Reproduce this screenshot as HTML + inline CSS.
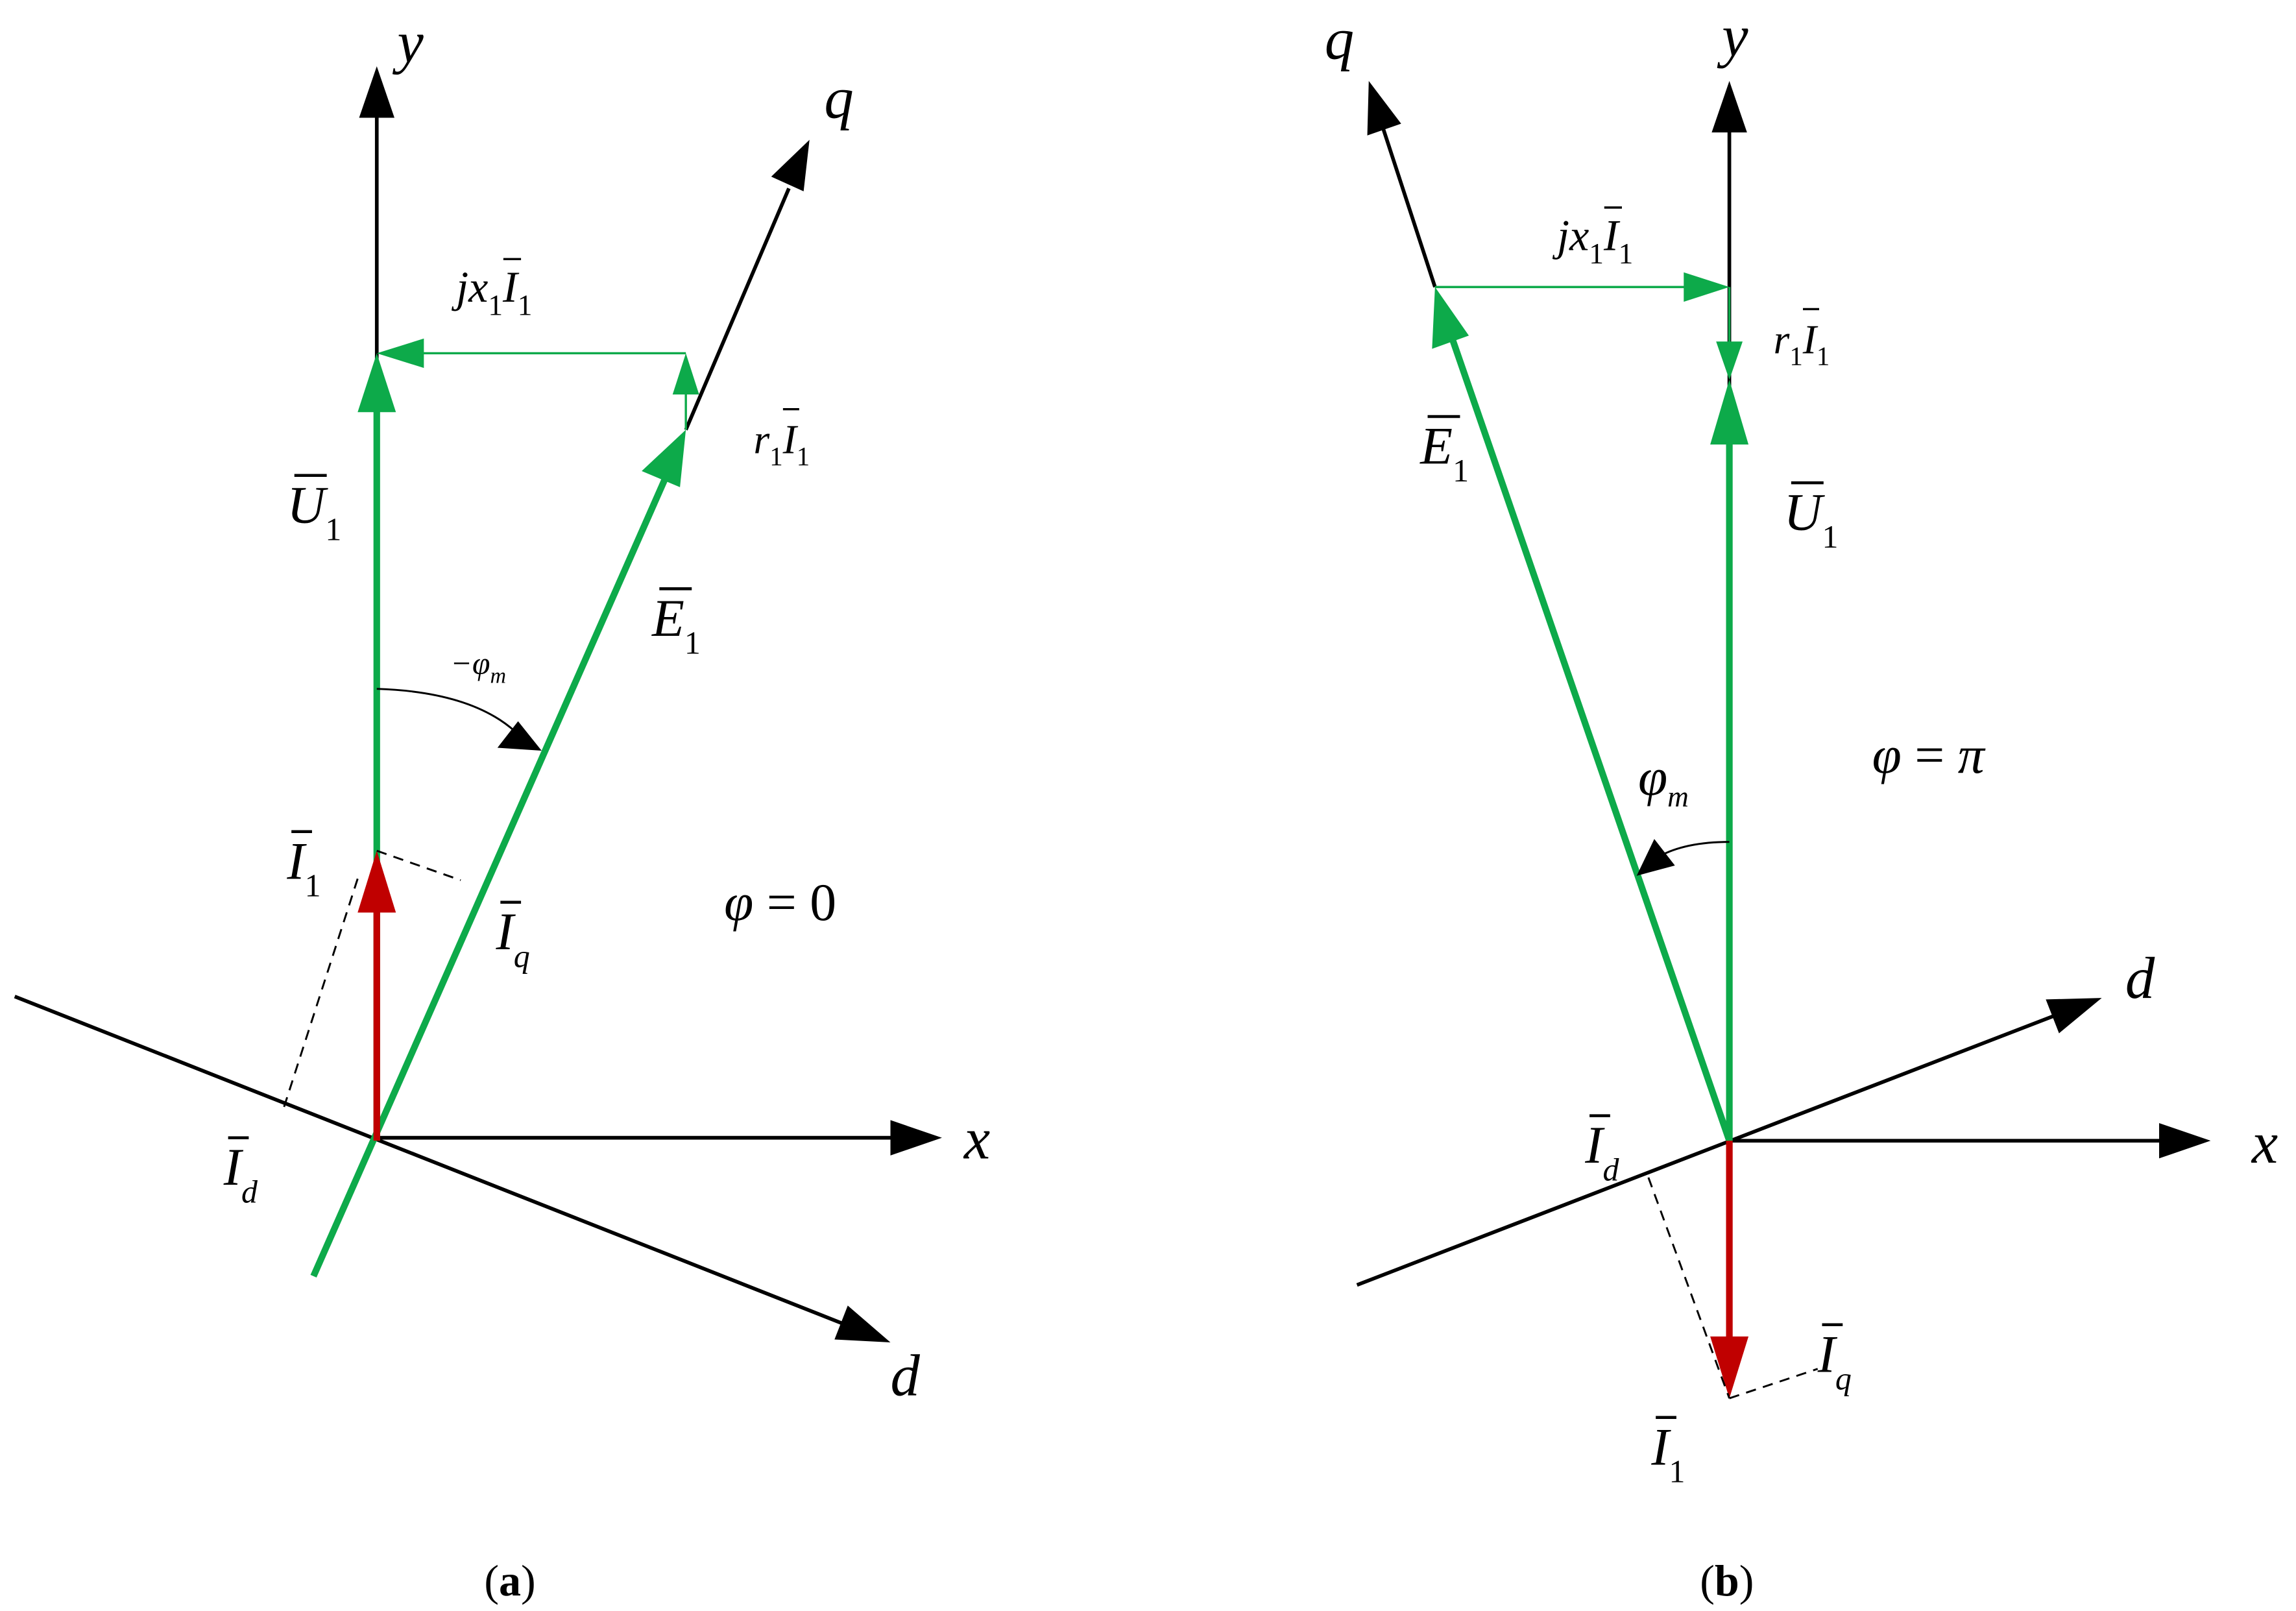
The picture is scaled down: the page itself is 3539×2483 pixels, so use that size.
<!DOCTYPE html>
<html><head><meta charset="utf-8"><style>
html,body{margin:0;padding:0;background:#fff;}
svg{display:block;}
text{font-family:"Liberation Serif",serif;font-style:italic;fill:#000;}
.n{font-style:normal;}
</style></head><body>
<svg width="3539" height="2483" viewBox="0 0 1560 1094.5" preserveAspectRatio="none" xmlns="http://www.w3.org/2000/svg">
<rect width="1560" height="1094.5" fill="#fff"/>
<!-- ===== (a) ===== -->
<g stroke="#000" stroke-width="2.5" fill="none">
<line x1="256" y1="775" x2="256" y2="78"/>
<line x1="256" y1="773" x2="605" y2="773"/>
<line x1="10" y1="677" x2="572" y2="899"/>
<line x1="466" y1="292" x2="536" y2="128"/>
</g>
<polygon points="256,45 244,80 268,80" fill="#000"/>
<polygon points="640,773 605,761 605,785" fill="#000"/>
<polygon points="605,912 567,910 576,887" fill="#000"/>
<polygon points="550,95 524,120 546,130" fill="#000"/>
<line x1="213" y1="867" x2="452" y2="325" stroke="#0daa4a" stroke-width="4.5"/>
<polygon points="466,292 436,320 462,331" fill="#0daa4a"/>
<line x1="256" y1="775" x2="256" y2="275" stroke="#0daa4a" stroke-width="4.5"/>
<polygon points="256,240 243,280 269,280" fill="#0daa4a"/>
<line x1="466" y1="240" x2="285" y2="240" stroke="#0daa4a" stroke-width="1.5"/>
<polygon points="256,240 288,230 288,250" fill="#0daa4a"/>
<line x1="466" y1="292" x2="466" y2="265" stroke="#0daa4a" stroke-width="1.5"/>
<polygon points="466,240 457,268 475,268" fill="#0daa4a"/>
<line x1="256" y1="775" x2="256" y2="610" stroke="#c00000" stroke-width="4.5"/>
<polygon points="256,578 243,620 269,620" fill="#c00000"/>
<g stroke="#000" stroke-width="1.3" stroke-dasharray="7,5" fill="none">
<line x1="243" y1="597" x2="193" y2="752"/>
<line x1="256" y1="578" x2="313" y2="598"/>
</g>
<path d="M256,468 Q320,470 350,497" stroke="#000" stroke-width="1.3" fill="none"/>
<polygon points="368,510 338,508 352,490" fill="#000"/>
<text x="270" y="42" font-size="40">y</text>
<text x="655" y="787" font-size="40">x</text>
<text x="605" y="948" font-size="40">d</text>
<text x="560" y="80" font-size="40">q</text>
<text x="195" y="355" font-size="36">U<tspan class="n" font-size="22" dy="12">1</tspan></text><line x1="200" y1="323" x2="222" y2="323" stroke="#000" stroke-width="2"/>
<text x="443" y="432" font-size="36">E<tspan class="n" font-size="22" dy="12">1</tspan></text><line x1="448" y1="400" x2="470" y2="400" stroke="#000" stroke-width="2"/>
<text x="512" y="308" font-size="28">r<tspan class="n" font-size="18" dy="8">1</tspan><tspan dy="-8">I</tspan><tspan class="n" font-size="18" dy="8">1</tspan></text><line x1="532" y1="278" x2="543" y2="278" stroke="#000" stroke-width="1.5"/>
<text x="310" y="205" font-size="30">jx<tspan class="n" font-size="20" dy="9">1</tspan><tspan dy="-9">I</tspan><tspan class="n" font-size="20" dy="9">1</tspan></text><line x1="342" y1="176" x2="354" y2="176" stroke="#000" stroke-width="1.5"/>
<text x="306" y="458" font-size="22">−φ<tspan font-size="15" dy="6">m</tspan></text>
<text x="195" y="597" font-size="36">I<tspan class="n" font-size="22" dy="12">1</tspan></text><line x1="198" y1="565" x2="212" y2="565" stroke="#000" stroke-width="2"/>
<text x="337" y="645" font-size="36">I<tspan font-size="22" dy="12">q</tspan></text><line x1="340" y1="613" x2="354" y2="613" stroke="#000" stroke-width="2"/>
<text x="492" y="625" font-size="36">φ<tspan class="n"> = 0</tspan></text>
<text x="152" y="805" font-size="36">I<tspan font-size="22" dy="12">d</tspan></text><line x1="155" y1="773" x2="169" y2="773" stroke="#000" stroke-width="2"/>
<text x="329" y="1084" font-size="30" class="n">(<tspan font-weight="bold" class="n">a</tspan>)</text>
<!-- ===== (b) ===== -->
<g stroke="#000" stroke-width="2.5" fill="none">
<line x1="1175" y1="775" x2="1175" y2="88"/>
<line x1="1175" y1="775" x2="1468" y2="775"/>
<line x1="922" y1="873" x2="1396" y2="690"/>
<line x1="975" y1="195" x2="940" y2="88"/>
</g>
<polygon points="1175,55 1163,90 1187,90" fill="#000"/>
<polygon points="1502,775 1467,763 1467,787" fill="#000"/>
<polygon points="1428,678 1390,679 1399,702" fill="#000"/>
<polygon points="930,55 929,92 952,84" fill="#000"/>
<line x1="1175" y1="775" x2="986" y2="228" stroke="#0daa4a" stroke-width="4.5"/>
<polygon points="975,195 973,237 998,228" fill="#0daa4a"/>
<line x1="1175" y1="775" x2="1175" y2="295" stroke="#0daa4a" stroke-width="4.5"/>
<polygon points="1175,258 1162,302 1188,302" fill="#0daa4a"/>
<line x1="975" y1="195" x2="1145" y2="195" stroke="#0daa4a" stroke-width="1.5"/>
<polygon points="1175,195 1144,185 1144,205" fill="#0daa4a"/>
<line x1="1175" y1="195" x2="1175" y2="235" stroke="#0daa4a" stroke-width="1.5"/>
<polygon points="1175,258 1166,232 1184,232" fill="#0daa4a"/>
<line x1="1175" y1="775" x2="1175" y2="912" stroke="#c00000" stroke-width="4.5"/>
<polygon points="1175,950 1162,908 1188,908" fill="#c00000"/>
<g stroke="#000" stroke-width="1.3" stroke-dasharray="7,5" fill="none">
<line x1="1120" y1="800" x2="1175" y2="950"/>
<line x1="1175" y1="950" x2="1235" y2="930"/>
</g>
<path d="M1175,572 Q1145,572 1127,582" stroke="#000" stroke-width="1.3" fill="none"/>
<polygon points="1112,595 1124,570 1138,588" fill="#000"/>
<text x="1170" y="38" font-size="40">y</text>
<text x="1530" y="790" font-size="40">x</text>
<text x="1444" y="678" font-size="40">d</text>
<text x="900" y="40" font-size="40">q</text>
<text x="965" y="315" font-size="36">E<tspan class="n" font-size="22" dy="12">1</tspan></text><line x1="970" y1="283" x2="992" y2="283" stroke="#000" stroke-width="2"/>
<text x="1212" y="360" font-size="36">U<tspan class="n" font-size="22" dy="12">1</tspan></text><line x1="1217" y1="328" x2="1239" y2="328" stroke="#000" stroke-width="2"/>
<text x="1205" y="240" font-size="28">r<tspan class="n" font-size="18" dy="8">1</tspan><tspan dy="-8">I</tspan><tspan class="n" font-size="18" dy="8">1</tspan></text><line x1="1225" y1="210" x2="1236" y2="210" stroke="#000" stroke-width="1.5"/>
<text x="1058" y="170" font-size="30">jx<tspan class="n" font-size="20" dy="9">1</tspan><tspan dy="-9">I</tspan><tspan class="n" font-size="20" dy="9">1</tspan></text><line x1="1090" y1="141" x2="1102" y2="141" stroke="#000" stroke-width="1.5"/>
<text x="1113" y="540" font-size="36">φ<tspan font-size="20" dy="8">m</tspan></text>
<text x="1272" y="525" font-size="36">φ<tspan class="n"> = </tspan>π</text>
<text x="1077" y="790" font-size="36">I<tspan font-size="22" dy="12">d</tspan></text><line x1="1080" y1="758" x2="1094" y2="758" stroke="#000" stroke-width="2"/>
<text x="1235" y="932" font-size="36">I<tspan font-size="22" dy="12">q</tspan></text><line x1="1238" y1="900" x2="1252" y2="900" stroke="#000" stroke-width="2"/>
<text x="1122" y="995" font-size="36">I<tspan class="n" font-size="22" dy="12">1</tspan></text><line x1="1125" y1="963" x2="1139" y2="963" stroke="#000" stroke-width="2"/>
<text x="1155" y="1084" font-size="30" class="n">(<tspan font-weight="bold" class="n">b</tspan>)</text>
</svg>
</body></html>
